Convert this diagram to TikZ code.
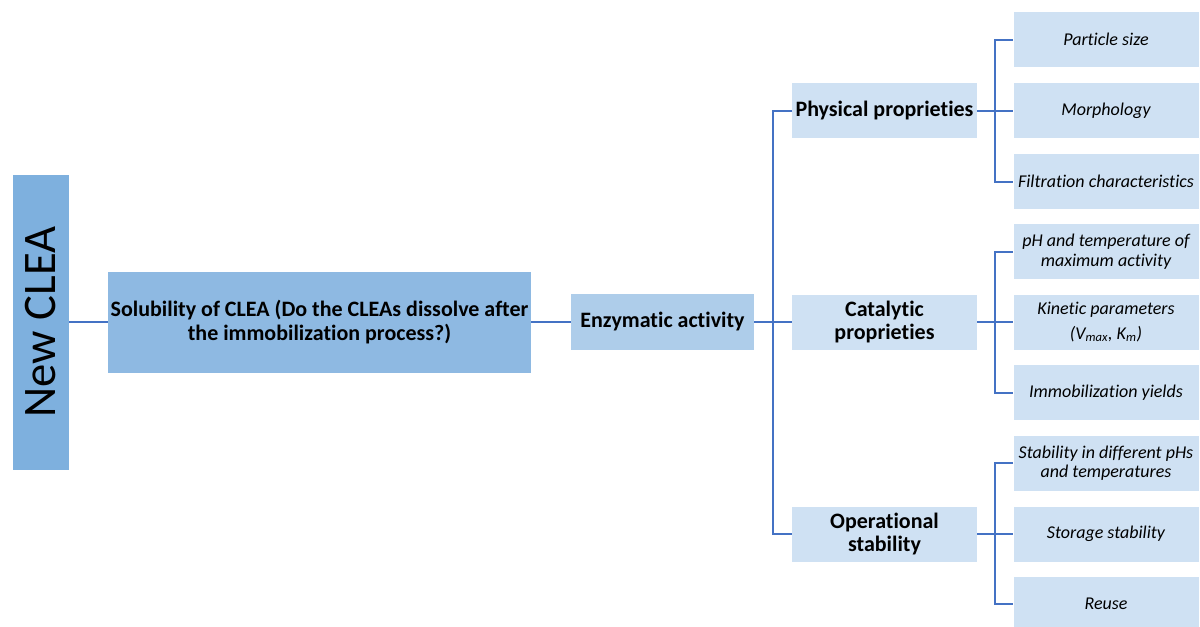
\documentclass[tikz,border=0pt]{standalone}
\usepackage{fontspec}
\setmainfont{Carlito}[RawFeature={-liga}]
\usetikzlibrary{calc}
\definecolor{lineblue}{HTML}{4472C4}
\definecolor{cnew}{HTML}{7EB0DE}
\definecolor{csol}{HTML}{8EB9E2}
\definecolor{cenz}{HTML}{AECDEA}
\definecolor{clight}{HTML}{CFE1F3}
\begin{document}
\begin{tikzpicture}[x=0.75pt,y=-0.75pt,
  base/.style={inner sep=0pt, align=center, text=black},
  boldtxt/.style={font=\fontsize{16.5}{17.5}\selectfont\bfseries},
  itxt/.style={font=\fontsize{13.5}{14.6}\selectfont\itshape},
  lvl/.style={base, boldtxt, fill=clight, minimum width=138.75pt, minimum height=41.25pt},
  leaf/.style={base, itxt, fill=clight, minimum width=138.75pt, minimum height=41.25pt},
  conn/.style={draw=lineblue, line width=1.5pt}]
\useasboundingbox (0,0) rectangle (1200,626);
\clip (0,0) rectangle (1200,626);

% main chain
\node[base, fill=cnew, rotate=90, minimum width=221.25pt, minimum height=42pt,
      font=\fontsize{35}{36}\selectfont] (new) at (41,322) {New CLEA};
\node[base, boldtxt, fill=csol, minimum width=317.25pt, minimum height=75.75pt] (sol) at (319.5,322)
  {Solubility of CLEA (Do the CLEAs dissolve after\\the immobilization process?)};
\node[base, boldtxt, fill=cenz, minimum width=137.25pt, minimum height=42pt] (enz) at (662.5,322) {Enzymatic activity};

% level 3
\node[lvl] (phys) at (884.5,110.5) {Physical proprieties};
\node[lvl] (cat) at (884.5,322) {Catalytic\\proprieties};
\node[lvl] (op) at (884.5,534) {Operational\\stability};

% leaves
\node[leaf] (ps) at (1106,39.5) {Particle size};
\node[leaf] (mo) at (1106,110.5) {Morphology};
\node[leaf] (fi) at (1106,181.5) {Filtration characteristics};
\node[leaf] (ph) at (1106,251.5) {pH and temperature of\\maximum activity};
\node[leaf] (ki) at (1106,322) {Kinetic parameters\\[4pt](V\textsubscript{max}, K\textsubscript{m})};
\node[leaf] (im) at (1106,392.5) {Immobilization yields};
\node[leaf] (sd) at (1106,463) {Stability in different pHs\\and temperatures};
\node[leaf] (st) at (1106,534) {Storage stability};
\node[leaf] (re) at (1106,604) {Reuse};

% connectors
\draw[conn] (new.south) -- (sol.west);
\draw[conn] (sol.east) -- (enz.west);
\draw[conn] (enz.east) -- (cat.west);
\coordinate (t1) at ($(enz.east)!0.5!(cat.west)$);
\draw[conn] (phys.west) -| (t1) |- (op.west);

\draw[conn] (phys.east) -- (mo.west);
\coordinate (t2) at ($(phys.east)!0.5!(mo.west)$);
\draw[conn] (ps.west) -| (t2) |- (fi.west);

\draw[conn] (cat.east) -- (ki.west);
\coordinate (t3) at ($(cat.east)!0.5!(ki.west)$);
\draw[conn] (ph.west) -| (t3) |- (im.west);

\draw[conn] (op.east) -- (st.west);
\coordinate (t4) at ($(op.east)!0.5!(st.west)$);
\draw[conn] (sd.west) -| (t4) |- (re.west);
\end{tikzpicture}
\end{document}
